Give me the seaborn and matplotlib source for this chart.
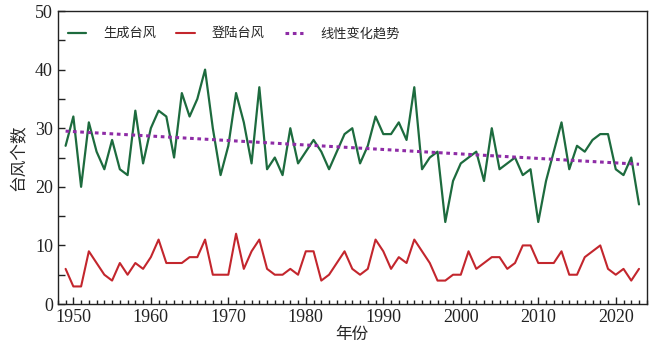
import numpy as np
import pandas as pd
import seaborn as sns
import matplotlib.pyplot as plt
from matplotlib.ticker import MultipleLocator

years = list(range(1949, 2024))
formed = [27, 32, 20, 31, 26, 23, 28, 23, 22, 33, 24, 30, 33, 32, 25, 36, 32, 35, 40, 30,
          22, 27, 36, 31, 24, 37, 23, 25, 22, 30, 24, 26, 28, 26, 23, 26, 29, 30, 24, 27,
          32, 29, 29, 31, 28, 37, 23, 25, 26, 14, 21, 24, 25, 26, 21, 30, 23, 24, 25, 22,
          23, 14, 21, 26, 31, 23, 27, 26, 28, 29, 29, 23, 22, 25, 17]
landed = [6, 3, 3, 9, 7, 5, 4, 7, 5, 7, 6, 8, 11, 7, 7, 7, 8, 8, 11, 5,
          5, 5, 12, 6, 9, 11, 6, 5, 5, 6, 5, 9, 9, 4, 5, 7, 9, 6, 5, 6,
          11, 9, 6, 8, 7, 11, 9, 7, 4, 4, 5, 5, 9, 6, 7, 8, 8, 6, 7, 10,
          10, 7, 7, 7, 9, 5, 5, 8, 9, 10, 6, 5, 6, 4, 6]
labels = ["生成台风", "登陆台风", "线性变化趋势"]

df = pd.DataFrame({"year": years, "formed": formed, "landed": landed})
# linear trend of formed typhoons
k, b = np.polyfit(df["year"], df["formed"], 1)
df["trend"] = k * df["year"] + b

sns.set_style("ticks")
plt.rcParams['font.family'] = ['Liberation Serif', 'Noto Sans CJK SC']

fig, ax = plt.subplots(figsize=(6.5, 3.56), dpi=100)
fig.subplots_adjust(left=0.089, right=0.995, top=0.969, bottom=0.146)

sns.lineplot(data=df, x="year", y="formed", ax=ax, color="#1d6b3e", lw=1.6, label=labels[0])
sns.lineplot(data=df, x="year", y="landed", ax=ax, color="#c3262d", lw=1.5, label=labels[1])
sns.lineplot(data=df, x="year", y="trend", ax=ax, color="#8e2ca6", lw=2.2,
             linestyle=(0, (1.2, 1.2)), label=labels[2])

ax.set_xlim(1948, 2024)
ax.set_ylim(0, 50)
ax.xaxis.set_major_locator(MultipleLocator(10))
ax.xaxis.set_minor_locator(MultipleLocator(1))
ax.yaxis.set_major_locator(MultipleLocator(10))
ax.yaxis.set_minor_locator(MultipleLocator(5))
ax.tick_params(which="both", direction="in", width=1, colors="#222222", labelsize=13)
ax.tick_params(which="major", length=5)
ax.tick_params(which="minor", length=3)
ax.tick_params(axis="y", which="minor", length=5)
for s in ax.spines.values():
    s.set_linewidth(1)
    s.set_color("#222222")

ax.set_xlabel("年份", fontsize=12, family=['Noto Sans CJK SC'], labelpad=0)
ax.set_ylabel("台风个数", fontsize=12, family=['Noto Sans CJK SC'], labelpad=5)

ax.legend(loc="upper left", ncol=3, frameon=False,
          prop={"family": "Noto Sans CJK SC", "size": 9.5},
          handlelength=1.4, columnspacing=1.5, handletextpad=1.3,
          bbox_to_anchor=(-0.003, 0.985))

plt.savefig("out.png", dpi=100)
